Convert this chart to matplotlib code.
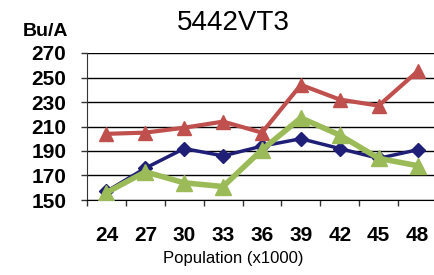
import matplotlib
matplotlib.use("Agg")
import matplotlib.pyplot as plt
import numpy as np

categories = ["24", "27", "30", "33", "36", "39", "42", "45", "48"]
red_vals = [204, 205, 209, 214, 205, 244, 232, 227, 255]
blue_vals = [157, 176, 192, 186, 194, 200, 192, 184, 191]
green_vals = [156, 173, 164, 161, 191, 217, 203, 184, 178]
yticks = [150, 170, 190, 210, 230, 250, 270]

plt.rcParams['font.family'] = ['Liberation Sans', 'DejaVu Sans']

W, H = 434, 275
fig = plt.figure(figsize=(W / 100, H / 100), dpi=100)
ax = fig.add_axes([87 / W, (H - 200) / H, 350 / W, 147 / H])

x = np.arange(len(categories))
ax.plot(x, blue_vals, color="#1F1F78", lw=2.5, marker="D", ms=7, zorder=3)
ax.plot(x, red_vals, color="#C0504D", lw=3, marker="^", ms=10, zorder=4)
ax.plot(x, green_vals, color="#9BBB59", lw=4, marker="^", ms=12, zorder=5)

ax.set_xlim(-0.5, 8.5)
ax.set_ylim(150, 270)
ax.set_yticks(yticks)
ax.set_yticklabels([str(v) for v in yticks], fontsize=15, fontweight="bold")
ax.set_xticks(x)
ax.set_xticklabels(categories, fontsize=15, fontweight="bold")
ax.set_xticks(np.arange(-0.5, 9, 1), minor=True)
ax.tick_params(axis="x", which="major", length=0, pad=19)
ax.tick_params(axis="x", which="minor", length=4, width=1, color="#333333", direction="out")
ax.tick_params(axis="y", which="major", length=4, width=1, color="#333333", pad=11)
ax.yaxis.grid(True, color="black", lw=1)
ax.set_axisbelow(True)
for s in ["top", "right"]:
    ax.spines[s].set_visible(False)
ax.spines["left"].set_color("#333333")
ax.spines["bottom"].set_color("black")

fig.text(233 / W, 1 - 23 / H, "5442VT3", fontsize=20, ha="center", va="center")
fig.text(68 / W, 1 - 31 / H, "Bu/A", fontsize=14, fontweight="bold", ha="right", va="center")
fig.text(233 / W, 1 - 259 / H, "Population (x1000)", fontsize=12, ha="center", va="center")

fig.savefig("out.png", dpi=100)
